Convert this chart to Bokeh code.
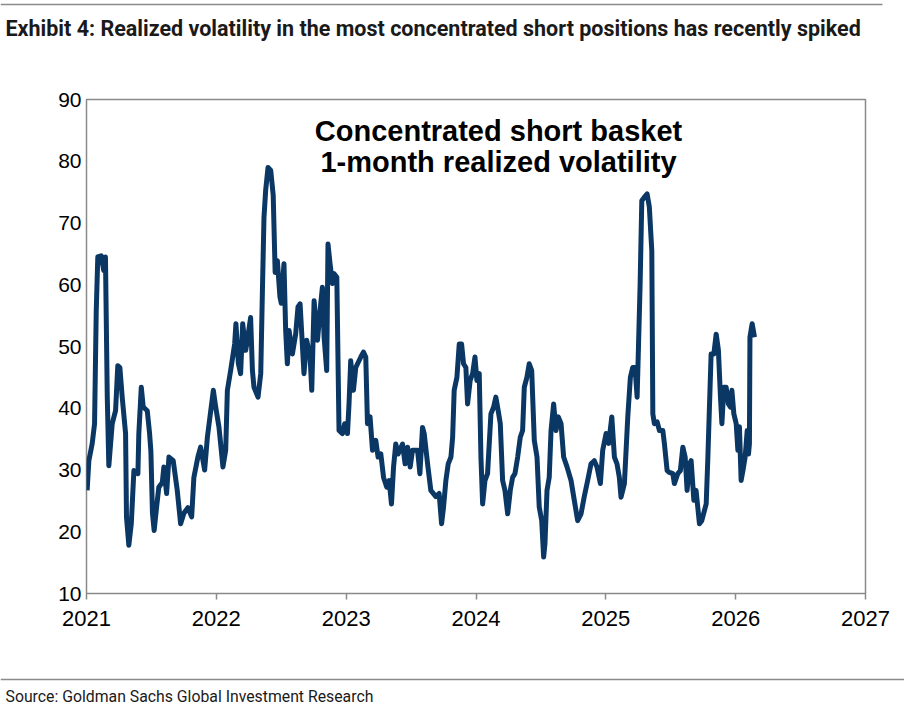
from bokeh.plotting import figure
from bokeh.models import Range1d, Label, FixedTicker, Span
from bokeh.layouts import column
from bokeh.embed import file_html
from bokeh.resources import INLINE

# ---- data: 1-month realized volatility of concentrated short basket (decimal year, %) ----
t_2021 = [2021.005, 2021.018, 2021.044, 2021.062, 2021.075, 2021.087, 2021.113, 2021.133, 2021.146, 2021.160,
          2021.172, 2021.198, 2021.224, 2021.241, 2021.257, 2021.275, 2021.301, 2021.308, 2021.326, 2021.345,
          2021.365, 2021.396, 2021.403, 2021.422, 2021.437, 2021.468, 2021.486, 2021.496, 2021.508, 2021.521,
          2021.540, 2021.557, 2021.584, 2021.596, 2021.617, 2021.635, 2021.668, 2021.699, 2021.725, 2021.750,
          2021.781, 2021.810, 2021.827, 2021.858, 2021.879, 2021.910, 2021.931, 2021.977, 2021.995]
v_2021 = [26.7, 31.5, 34.3, 37.5, 55.8, 64.5, 64.7, 62.3, 64.5, 41.8,
          30.7, 37.5, 39.6, 46.9, 46.6, 41.8, 35.9, 22.4, 17.8, 21.3,
          29.9, 29.4, 35.9, 43.4, 40.2, 39.6, 35.9, 33.0, 23.0, 20.2,
          24.0, 27.2, 28.0, 30.5, 26.2, 32.1, 31.5, 26.7, 21.3, 23.0,
          23.9, 22.4, 28.8, 32.1, 33.7, 30.0, 35.3, 42.9, 40.2]

t_2022 = [2022.020, 2022.051, 2022.072, 2022.085, 2022.110, 2022.141, 2022.151, 2022.170, 2022.187, 2022.203,
          2022.226, 2022.239, 2022.264, 2022.278, 2022.290, 2022.321, 2022.342, 2022.355, 2022.367, 2022.380,
          2022.398, 2022.419, 2022.438, 2022.453, 2022.470, 2022.490, 2022.500, 2022.521, 2022.534, 2022.547,
          2022.560, 2022.586, 2022.611, 2022.629, 2022.645, 2022.675, 2022.696, 2022.722, 2022.735, 2022.753,
          2022.779, 2022.804, 2022.817, 2022.830, 2022.850, 2022.860, 2022.876, 2022.894, 2022.907, 2022.928,
          2022.945, 2022.971, 2022.989]
v_2022 = [37.0, 30.5, 33.2, 42.9, 46.1, 50.4, 53.7, 47.2, 45.6, 53.7,
          49.4, 51.0, 54.7, 46.1, 43.4, 41.8, 45.6, 59.1, 70.9, 75.3,
          79.0, 78.5, 74.5, 62.0, 63.9, 58.0, 57.0, 63.4, 52.6, 47.2,
          52.6, 48.8, 52.0, 56.4, 56.9, 45.6, 51.0, 48.3, 42.9, 57.4,
          51.0, 56.9, 59.6, 51.5, 46.1, 66.6, 63.4, 60.2, 61.8, 61.2,
          36.4, 35.9, 37.5]

t_2023 = [2023.010, 2023.022, 2023.035, 2023.056, 2023.074, 2023.113, 2023.133, 2023.151, 2023.164, 2023.184,
          2023.203, 2023.228, 2023.246, 2023.267, 2023.288, 2023.313, 2023.331, 2023.349, 2023.365, 2023.382,
          2023.400, 2023.434, 2023.454, 2023.473, 2023.493, 2023.511, 2023.550, 2023.568, 2023.588, 2023.601,
          2023.627, 2023.652, 2023.691, 2023.716, 2023.735, 2023.750, 2023.768, 2023.786, 2023.807, 2023.820,
          2023.832, 2023.853, 2023.871, 2023.889, 2023.904, 2023.922, 2023.935, 2023.955, 2023.974, 2023.992]
v_2023 = [35.9, 40.7, 47.7, 42.9, 46.6, 48.3, 49.1, 48.3, 37.5, 38.6,
          33.2, 34.8, 32.1, 32.6, 28.8, 27.2, 28.3, 24.5, 30.5, 34.2,
          32.6, 34.2, 31.0, 33.7, 30.5, 33.2, 33.2, 29.4, 36.9, 35.9,
          31.0, 26.7, 25.7, 26.2, 21.3, 24.0, 28.3, 31.0, 32.1, 35.3,
          42.9, 45.0, 50.4, 50.4, 47.2, 46.6, 40.7, 44.5, 45.6, 48.3]

t_2024 = [2024.007, 2024.025, 2024.038, 2024.051, 2024.069, 2024.089, 2024.115, 2024.136, 2024.153, 2024.171,
          2024.187, 2024.205, 2024.223, 2024.244, 2024.264, 2024.282, 2024.300, 2024.321, 2024.341, 2024.359,
          2024.372, 2024.392, 2024.410, 2024.429, 2024.449, 2024.470, 2024.487, 2024.506, 2024.521, 2024.531,
          2024.547, 2024.564, 2024.578, 2024.598, 2024.616, 2024.634, 2024.655, 2024.675, 2024.701, 2024.732,
          2024.757, 2024.783, 2024.809, 2024.834, 2024.860, 2024.886, 2024.911, 2024.932, 2024.958, 2024.976]
v_2024 = [44.5, 45.6, 32.1, 24.5, 28.3, 29.4, 39.1, 40.2, 41.8, 39.6,
          37.5, 28.3, 26.7, 22.9, 26.7, 28.8, 29.4, 32.1, 35.3, 36.4,
          43.4, 45.0, 47.2, 46.1, 34.8, 32.1, 24.0, 21.8, 15.9, 18.0,
          26.7, 28.8, 36.4, 40.7, 36.4, 38.6, 37.5, 32.1, 30.5, 28.3,
          25.1, 21.8, 22.9, 25.7, 28.3, 31.0, 31.5, 30.5, 27.8, 33.2]

t_2025 = [2025.002, 2025.022, 2025.046, 2025.066, 2025.086, 2025.104, 2025.117, 2025.143, 2025.169, 2025.189,
          2025.207, 2025.225, 2025.241, 2025.252, 2025.264, 2025.277, 2025.297, 2025.318, 2025.335, 2025.354,
          2025.362, 2025.374, 2025.395, 2025.413, 2025.439, 2025.451, 2025.472, 2025.490, 2025.516, 2025.528,
          2025.554, 2025.574, 2025.593, 2025.611, 2025.626, 2025.644, 2025.657, 2025.678, 2025.695, 2025.721,
          2025.739, 2025.759, 2025.773, 2025.786, 2025.798, 2025.811, 2025.832, 2025.850, 2025.867, 2025.883,
          2025.894, 2025.909, 2025.927, 2025.944, 2025.960, 2025.971, 2025.986]
v_2025 = [35.9, 34.3, 38.6, 32.1, 31.0, 28.8, 25.6, 27.8, 38.6, 45.0,
          46.6, 46.6, 41.8, 50.4, 60.0, 73.6, 74.2, 74.7, 72.6, 65.5,
          39.1, 37.5, 37.8, 36.4, 36.4, 34.3, 29.9, 29.6, 29.4, 27.8,
          29.4, 29.9, 33.7, 32.1, 26.7, 31.0, 31.5, 25.1, 26.7, 21.3,
          21.8, 23.4, 24.5, 32.1, 40.2, 48.8, 48.8, 52.0, 49.4, 41.8,
          37.5, 43.4, 43.4, 40.7, 40.2, 42.9, 39.1]

t_2026 = [2026.004, 2026.017, 2026.029, 2026.042, 2026.056, 2026.073, 2026.089, 2026.099, 2026.106, 2026.110,
          2026.127, 2026.145]
v_2026 = [37.5, 33.2, 37.0, 28.3, 29.9, 32.1, 36.4, 32.6, 34.3, 51.5,
          53.7, 51.5]

x_ticks = [2021, 2022, 2023, 2024, 2025, 2026, 2027]
y_ticks = [10, 20, 30, 40, 50, 60, 70, 80, 90]

title_text = "Exhibit 4: Realized volatility in the most concentrated short positions has recently spiked"
note_lines = ["Concentrated short basket", "1-month realized volatility"]
source_text = "Source: Goldman Sachs Global Investment Research"

dates = t_2021 + t_2022 + t_2023 + t_2024 + t_2025 + t_2026
vols = v_2021 + v_2022 + v_2023 + v_2024 + v_2025 + v_2026

LINE = "#0B3764"
GREY = "#8a8a8a"
FONT = "Liberation Sans"
HEAD_FONT = "Roboto"
W = 904
TOP_H, MAIN_H, BOT_H = 60, 600, 48


def blank_panel(h):
    f = figure(width=W, height=h, output_backend="svg", toolbar_location=None,
               x_range=Range1d(0, W), y_range=Range1d(h, 0),
               min_border=0, min_border_left=0, min_border_right=0, min_border_top=0, min_border_bottom=0)
    f.frame_align = False
    f.axis.visible = False
    f.grid.visible = False
    f.outline_line_color = None
    f.background_fill_color = "white"
    f.border_fill_color = "white"
    return f


# ---- header panel: rule + title ----
top = blank_panel(TOP_H)
top.segment(x0=[0], y0=[4], x1=[882], y1=[4], line_color=GREY, line_width=1.5)
top.add_layout(Label(x=5, y=28, text=title_text, text_align="left", text_baseline="middle",
                     text_font=HEAD_FONT, text_font_style="bold",
                     text_font_size="21.5px", text_color="#1a1a1a"))

# ---- main chart ----
p = figure(width=W, height=MAIN_H, output_backend="svg", toolbar_location=None,
           x_range=Range1d(x_ticks[0], x_ticks[-1]), y_range=Range1d(y_ticks[0], y_ticks[-1]),
           min_border_left=86, min_border_right=39, min_border_top=99 - TOP_H,
           min_border_bottom=TOP_H + MAIN_H - 593)
p.frame_align = False
p.background_fill_color = "white"
p.border_fill_color = "white"
p.outline_line_color = GREY
p.outline_line_width = 1.5
p.xgrid.visible = False
p.ygrid.visible = False

p.line(dates, vols, line_color=LINE, line_width=5, line_join="round")

xa = p.xaxis[0]
xa.ticker = FixedTicker(ticks=x_ticks)
xa.axis_line_color = None
xa.major_tick_in = 0
xa.major_tick_out = 6
xa.major_tick_line_color = GREY
xa.major_tick_line_width = 1.5
xa.minor_tick_line_color = None
xa.major_label_standoff = 11
xa.major_label_text_font = FONT
xa.major_label_text_font_size = "22px"
xa.major_label_text_color = "black"

ya = p.yaxis[0]
ya.ticker = FixedTicker(ticks=y_ticks)
ya.axis_line_color = None
ya.major_tick_in = 0
ya.major_tick_out = 0
ya.minor_tick_line_color = None
ya.major_label_standoff = 5
ya.major_label_text_font = FONT
ya.major_label_text_font_size = "21px"
ya.major_label_text_color = "black"

for i, line in enumerate(note_lines):
    p.add_layout(Label(x=498, y=130 - TOP_H + 31 * i, x_units="canvas", y_units="canvas", text=line,
                       text_align="center", text_baseline="middle", text_font=FONT,
                       text_font_style="bold", text_font_size="29px", text_color="black"))

# ---- footer panel: rule + source ----
bot = blank_panel(BOT_H)
bot.add_layout(Span(location=679 - TOP_H - MAIN_H, dimension="width", line_color=GREY, line_width=1.5))
bot.add_layout(Label(x=5, y=696 - TOP_H - MAIN_H, text=source_text, text_align="left", text_baseline="middle",
                     text_font=HEAD_FONT, text_font_size="15.8px", text_color="#1a1a1a"))

layout = column(top, p, bot, spacing=0)
open("out.html", "w").write(file_html(layout, INLINE))
